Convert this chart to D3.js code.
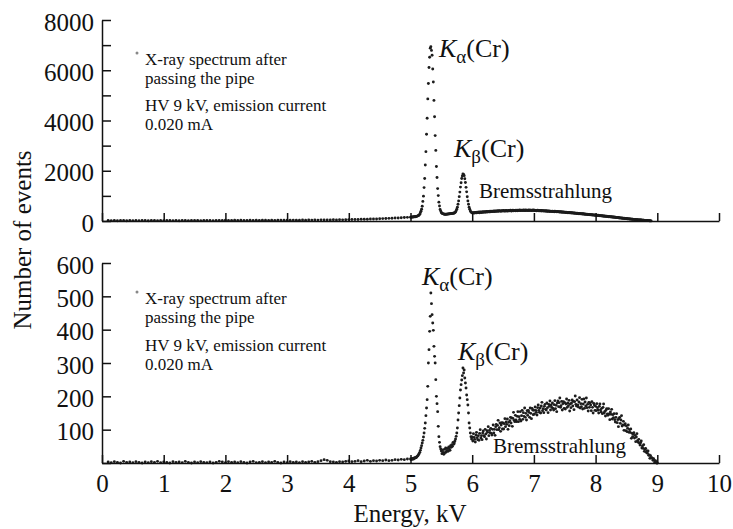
<!DOCTYPE html>
<html><head><meta charset="utf-8">
<script src="https://cdn.jsdelivr.net/npm/d3@7"></script>
<style>
html,body{margin:0;padding:0;background:#fff;}
svg{display:block;}
svg text{font-family:"Liberation Serif","Times New Roman",serif;fill:#111;}
</style></head><body>
<svg id="chart" width="733" height="529"></svg>
<script>
// ---------------- DATA ----------------
// Detector channels: low-energy part sampled every 0.05 kV from 0.10 kV,
// high-energy part every 0.01 kV from 5.00 kV (channel calibration).
const lowStart = 0.10, lowStep = 0.05;
const highStart = 5.00, highStep = 0.01;

const xTickValues = [0,1,2,3,4,5,6,7,8,9,10];
const xTickLabels = ["0","1","2","3","4","5","6","7","8","9","10"];
const topYTickValues = [0,1000,2000,3000,4000,5000,6000,7000,8000];
const topYTickLabels = [0,2000,4000,6000,8000];
const bottomYTickValues = [0,100,200,300,400,500,600];
const bottomYTickLabels = [100,200,300,400,500,600];

const legendLines = ["X-ray spectrum after","passing the pipe"];
const conditionLines = ["HV 9 kV, emission current","0.020 mA"];

// Upper panel counts
const topLowCounts = [
 20,15,25,10,18,22,12,20,16,24,
 14,19,21,11,17,23,15,20,13,18,
 22,16,25,12,19,21,15,23,17,20,
 14,26,18,22,16,24,19,21,28,25,
 20,30,22,27,18,26,31,24,28,22,
 33,27,25,30,24,29,35,28,32,30,
 36,28,34,40,32,38,35,42,36,45,
 40,38,44,48,42,50,46,52,55,58,
 62,60,68,72,70,78,82,80,88,95,
 100,105,110,118,122,130,138,145];
const topHighCounts = [
 150,155,148,160,165,158,170,175,168,180,
 185,195,205,220,240,265,330,390,470,590,
 780,990,1330,1690,2230,2760,3450,4090,4860,5470,
 6110,6520,6880,6940,6790,6600,6050,5530,4800,4150,
 3400,2810,2170,1730,1290,1010,750,600,460,395,
 340,310,295,285,275,270,268,265,270,272,
 275,280,282,285,290,292,295,300,305,308,
 310,316,335,360,405,465,548,665,800,970,
 1150,1350,1520,1690,1790,1870,1855,1805,1680,1530,
 1340,1160,965,800,665,548,468,400,362,335,
 325,310,334,329,318,340,336,322,352,341,
 338,356,331,349,362,340,351,368,345,357,
 370,352,361,377,359,366,384,362,370,389,
 368,381,393,372,385,398,376,390,402,383,
 392,405,385,398,414,392,401,390,411,404,
 396,418,401,393,410,424,398,408,395,419,
 412,401,426,409,399,418,430,406,415,421,
 410,428,419,405,433,414,422,437,411,424,
 430,415,422,440,418,427,412,435,423,416,
 428,419,437,414,426,433,411,429,421,436,
 418,430,411,424,407,421,432,410,419,404,
 416,402,420,398,412,405,394,414,400,392,
 405,390,398,382,401,388,379,395,384,377,
 391,376,385,370,388,372,380,365,377,368,
 374,360,369,354,366,350,362,346,358,344,
 352,340,348,333,345,330,341,326,336,322,
 333,318,328,314,324,310,318,305,314,300,
 309,296,304,290,300,287,295,282,290,277,
 286,272,280,267,275,262,270,257,265,252,
 260,248,255,242,250,237,245,232,240,227,
 236,222,230,217,226,212,220,207,215,202,
 210,197,205,192,200,187,195,182,190,177,
 184,172,179,166,173,160,168,155,162,149,
 157,145,150,139,144,133,138,127,132,121,
 126,116,120,110,114,104,108,98,102,93,
 97,88,91,83,86,78,81,73,76,68,
 71,64,66,59,61,54,56,50,51,45,
 46,41,42,37,38,33,34,29,30,25,
 26,22,22,18,18,14,14,10,9,6,
 3];

// Lower panel counts
const bottomLowCounts = [
 3,1,4,2,0,5,2,3,1,4,
 2,0,3,1,4,2,5,1,3,2,
 0,4,2,3,1,5,2,0,3,1,
 4,2,1,3,0,2,5,3,1,4,
 2,3,1,4,2,0,3,5,1,2,
 4,1,3,2,5,2,0,3,1,4,
 2,3,1,4,2,3,5,2,4,7,
 10,8,4,3,2,4,3,5,6,4,
 5,7,4,6,8,5,7,6,8,7,
 9,7,8,10,9,11,10,12];
const bottomHighCounts = [
 12,10,13,11,14,12,15,14,17,16,
 18,20,22,25,28,32,38,45,52,60,
 68,78,90,104,120,142,165,190,230,300,
 340,395,440,510,478,445,420,398,350,320,
 300,250,200,178,154,110,79,62,49,42,
 36,28,39,32,26,41,31,45,33,38,
 44,35,48,42,38,52,47,55,50,62,
 56,60,66,72,80,90,105,129,150,172,
 195,219,235,249,262,285,270,279,255,240,
 225,204,190,174,150,120,105,90,79,72,
 78,66,88,77,71,63,84,92,76,70,
 82,68,89,100,75,82,70,90,96,82,
 79,101,87,72,97,92,109,82,98,91,
 104,89,84,101,114,90,101,83,109,116,
 100,113,128,100,106,120,95,114,121,102,
 120,102,118,133,109,123,116,132,101,122,
 112,127,137,120,135,110,134,152,128,124,
 143,129,124,140,154,124,139,131,154,126,
 142,158,131,151,140,165,137,149,129,157,
 143,158,152,137,165,149,133,164,159,145,
 158,147,168,158,152,144,166,174,158,152,
 165,150,171,182,157,163,151,170,176,161,
 159,180,166,151,176,170,186,159,174,167,
 180,164,159,175,187,163,173,154,180,186,
 169,181,195,167,172,185,159,178,184,164,
 181,162,177,192,167,180,172,188,156,177,
 166,180,189,171,185,160,184,201,176,171,
 189,174,168,183,196,165,178,169,191,162,
 177,192,164,183,171,195,166,176,156,182,
 167,180,174,157,184,167,150,179,174,158,
 170,157,178,166,159,150,170,177,159,153,
 164,148,167,177,150,155,141,159,163,147,
 143,163,147,130,153,146,161,132,145,136,
 148,130,123,137,148,121,130,109,133,137,
 119,129,142,111,114,125,98,114,118,97,
 111,94,104,114,92,100,92,102,74,89,
 79,87,91,75,83,64,78,88,67,62,
 71,60,54,61,66,45,51,44,55,35,
 41,44,32,36,29,36,23,24,14,22,
 15,16,14,8,13,8,2,7,4,0,
 0];

// ---------------- DRAWING ----------------
function toPoints(lowCounts, highCounts){
  const pts = [];
  lowCounts.forEach((c,i)=>pts.push({e:+(lowStart+i*lowStep).toFixed(2), c}));
  highCounts.forEach((c,i)=>pts.push({e:+(highStart+i*highStep).toFixed(2), c}));
  return pts;
}

const svg = d3.select("#chart");
const FONT = '"Liberation Serif","Times New Roman",serif';
const x = d3.scaleLinear().domain([0,10]).range([102,719]);

const panels = [
  {y:d3.scaleLinear().domain([0,8000]).range([221,20]),
   ticks:topYTickValues, labels:topYTickLabels,
   pts:toPoints(topLowCounts, topHighCounts), showX:false,
   legendY:64.5, condY:111, markerY:53,
   ka:[439,57], kb:[454,157], brems:[479,198]},
  {y:d3.scaleLinear().domain([0,600]).range([463,263]),
   ticks:bottomYTickValues, labels:bottomYTickLabels,
   pts:toPoints(bottomLowCounts, bottomHighCounts), showX:true,
   legendY:304, condY:350.5, markerY:292,
   ka:[422,285], kb:[458,360], brems:[493,453]}
];

function multiLine(g, lines, x0, y0, lh, size){
  const t = g.append("text").attr("x",x0).attr("y",y0).style("font-size",size);
  lines.forEach((s,i)=>t.append("tspan").attr("x",x0).attr("dy",i===0?0:lh).text(s));
}

panels.forEach(p=>{
  const g = svg.append("g");
  // points
  g.append("g").selectAll("circle").data(p.pts).join("circle")
    .attr("cx",d=>x(d.e)).attr("cy",d=>p.y(d.c)).attr("r",1.45)
    .attr("fill","#1c1c1c");

  // y axis
  const ya = d3.axisLeft(p.y).tickValues(p.ticks)
    .tickSizeInner(-9).tickSizeOuter(0).tickPadding(8)
    .tickFormat(v=>p.labels.includes(v)?String(v):"");
  const yg = g.append("g").attr("transform",`translate(${x(0)},0)`).call(ya);
  // x axis
  const xa = d3.axisBottom(x).tickValues(xTickValues)
    .tickSizeInner(-8).tickSizeOuter(0).tickPadding(11)
    .tickFormat((v,i)=>p.showX?xTickLabels[i]:"");
  const xg = g.append("g").attr("transform",`translate(0,${p.y(0)})`).call(xa);
  [yg,xg].forEach(a=>{
    a.attr("font-family",null).attr("font-size",null);
    a.selectAll("path,line").attr("stroke","#111").attr("stroke-width",1.5);
    a.selectAll("text").attr("fill","#111")
      .style("font-family",FONT).style("font-size","25px");
  });
  yg.selectAll("text").attr("dy","0.40em");

  // legend
  g.append("circle").attr("cx",137).attr("cy",p.markerY).attr("r",1.5).attr("fill","#888");
  multiLine(g, legendLines, 145, p.legendY, 19, "17px");
  multiLine(g, conditionLines, 145, p.condY, 19, "17px");

  // peak labels
  [[p.ka,"\u03b1"],[p.kb,"\u03b2"]].forEach(([pos,sub])=>{
    const t = g.append("text").attr("x",pos[0]).attr("y",pos[1]).style("font-size","26px");
    t.append("tspan").text("K").style("font-style","italic");
    t.append("tspan").text(sub).attr("dy",6).style("font-size","19px");
    t.append("tspan").text("(Cr)").attr("dy",-6);
  });
  g.append("text").attr("x",p.brems[0]).attr("y",p.brems[1])
    .style("font-size","21px").text("Bremsstrahlung");
});

// axis titles
svg.append("text").attr("x",410).attr("y",522).attr("text-anchor","middle")
  .style("font-size","25px").text("Energy, kV");
svg.append("text").attr("transform","translate(31,240) rotate(-90)")
  .attr("text-anchor","middle").style("font-size","25px").text("Number of events");
</script>
</body></html>
